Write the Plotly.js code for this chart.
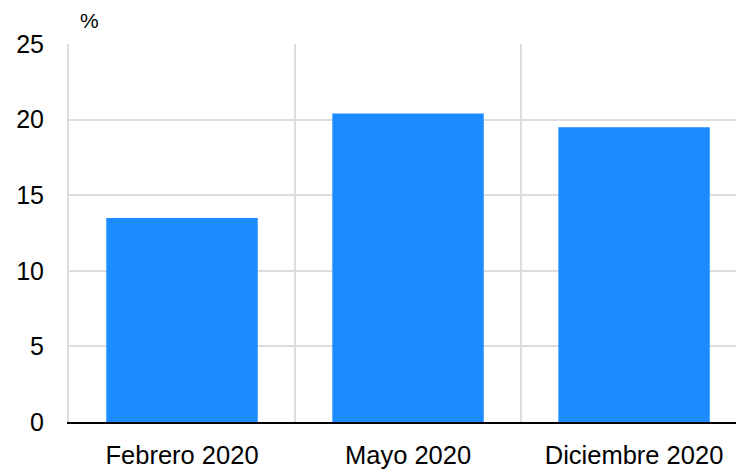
<!DOCTYPE html>
<html>
<head>
<meta charset="utf-8">
<script src="https://cdn.plot.ly/plotly-3.0.1.min.js"></script>
<style>html,body{margin:0;padding:0;background:#fff;}#chart{width:736px;height:471px;}</style>
</head>
<body>
<div id="chart"></div>
<script>
const categories = ["Febrero 2020", "Mayo 2020", "Diciembre 2020"];
const values = [13.5, 20.4, 19.5];
const yTicks = [0, 5, 10, 15, 20, 25];
const unitLabel = "%";

const trace = {
  type: "bar",
  x: categories,
  y: values,
  width: 0.67,
  marker: { color: "#1b8bff", line: { width: 0 } },
  hoverinfo: "skip"
};

const layout = {
  width: 736,
  height: 471,
  margin: { l: 69, r: 0, t: 44, b: 49 },
  paper_bgcolor: "#ffffff",
  plot_bgcolor: "#ffffff",
  showlegend: false,
  font: { family: "Liberation Sans, Arial, sans-serif", color: "#000", size: 24 },
  xaxis: {
    type: "category",
    range: [-0.5, 2.451],
    tickson: "boundaries",
    showgrid: true,
    gridcolor: "#dcdcdc",
    gridwidth: 2,
    ticks: "",
    ticklabelstandoff: 9,
    showline: true,
    linecolor: "#000",
    linewidth: 2,
    tickfont: { size: 25.5 },
    automargin: false,
    fixedrange: true
  },
  yaxis: {
    range: [0, 25],
    tickvals: yTicks,
    ticktext: yTicks.map(String),
    showgrid: true,
    gridcolor: "#dcdcdc",
    gridwidth: 2,
    zeroline: false,
    showline: true,
    linecolor: "#dcdcdc",
    linewidth: 2,
    ticks: "outside",
    ticklen: 18,
    tickcolor: "rgba(0,0,0,0)",
    tickfont: { size: 25 },
    automargin: false,
    fixedrange: true
  },
  annotations: [{
    text: unitLabel,
    xref: "paper", yref: "paper",
    x: 0.03, y: 1.0,
    xanchor: "center", yanchor: "bottom",
    yshift: 10,
    showarrow: false,
    font: { size: 21, color: "#000" }
  }]
};

Plotly.newPlot("chart", [trace], layout, { displayModeBar: false, staticPlot: true });
</script>
</body>
</html>
